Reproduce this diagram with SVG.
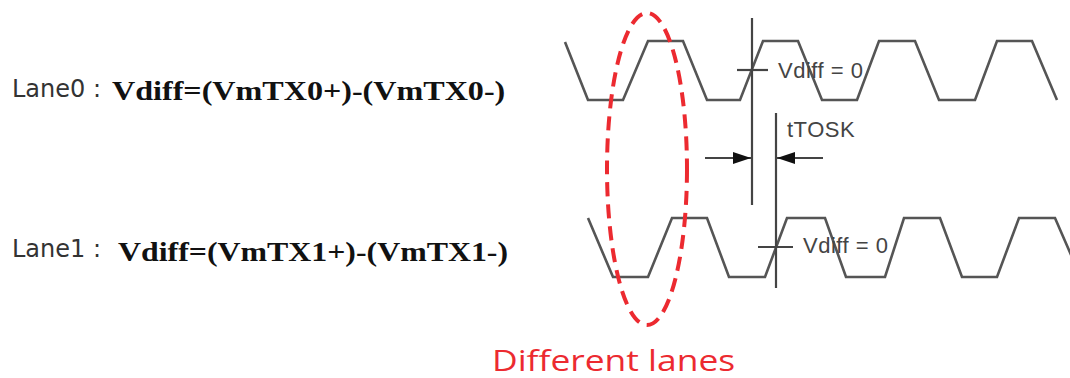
<svg xmlns="http://www.w3.org/2000/svg" width="1070" height="378" viewBox="0 0 1070 378">
<style>
.wave{fill:none;stroke:#555;stroke-width:2.6;stroke-linejoin:miter}
.guide{fill:none;stroke:#444;stroke-width:2.2}
.lbl{font-family:"DejaVu Sans","Liberation Sans",sans-serif;font-size:24px;fill:#333}
.eq{font-family:"Liberation Serif","Times New Roman",serif;font-weight:bold;font-size:27px;fill:#111}
.ann{font-family:"Liberation Sans",Arial,sans-serif;font-size:22px;fill:#444}
.red{fill:none;stroke:#ec2a30;stroke-width:4;stroke-dasharray:14 8}
</style>
<defs>
<marker id="ah" markerUnits="userSpaceOnUse" markerWidth="18" markerHeight="12" refX="18" refY="6" orient="auto">
<path d="M0,0 L18,6 L0,12 Z" fill="#111"/>
</marker>
</defs>
<rect width="1070" height="378" fill="#fff"/>
<g id="label-lane0">
<text class="lbl" x="12" y="97">Lane0 :</text>
<text class="eq" transform="translate(112,100) scale(1.19,1)" x="0" y="0">Vdiff=(VmTX0+)-(VmTX0-)</text>
</g>
<g id="label-lane1">
<text class="lbl" x="12" y="257">Lane1 :</text>
<text class="eq" transform="translate(118,261) scale(1.18,1)" x="0" y="0">Vdiff=(VmTX1+)-(VmTX1-)</text>
</g>
<g id="wave-lane0">
<path class="wave" d="M565,42 L588,100 L623,100 L648,41 L683,41 L707,100 L740,100 L763,41 L798,41 L822,100 L857,100 L879,41 L915,41 L939,100 L975,100 L997,41 L1032,41 L1057,100"/>
</g>
<g id="wave-lane1">
<path class="wave" d="M588,218 L613,277 L648,277 L672,218 L707,218 L729,277 L765,277 L787,218 L825,218 L846,277 L885,277 L904,218 L940,218 L962,277 L997,277 L1019,218 L1055,218 L1078,271"/>
</g>
<g id="connectors">
<line class="guide" x1="752" y1="18" x2="752" y2="205"/>
<line class="guide" x1="776" y1="113" x2="776" y2="288"/>
<line class="guide" x1="737" y1="70" x2="768" y2="70"/>
<line class="guide" x1="758" y1="247" x2="793" y2="247"/>
<line class="guide" x1="705" y1="158" x2="751" y2="158" marker-end="url(#ah)"/>
<line class="guide" x1="823" y1="158" x2="777" y2="158" marker-end="url(#ah)"/>
</g>
<g id="vdiff0-lane0">
<text class="ann" x="778" y="78" letter-spacing="0.5">Vdiff = 0</text>
</g>
<g id="tosk">
<text class="ann" x="787" y="137" letter-spacing="0.5">tTOSK</text>
</g>
<g id="vdiff0-lane1">
<text class="ann" x="803" y="253" letter-spacing="0.5">Vdiff = 0</text>
</g>
<g id="different-lanes">
<ellipse class="red" cx="647" cy="169" rx="40" ry="156"/>
<text transform="translate(492,371) scale(1.18,1)" x="0" y="0" font-family="'Open Sans','Noto Sans',sans-serif" font-size="30" fill="#ec2a30">Different lanes</text>
</g>
</svg>
